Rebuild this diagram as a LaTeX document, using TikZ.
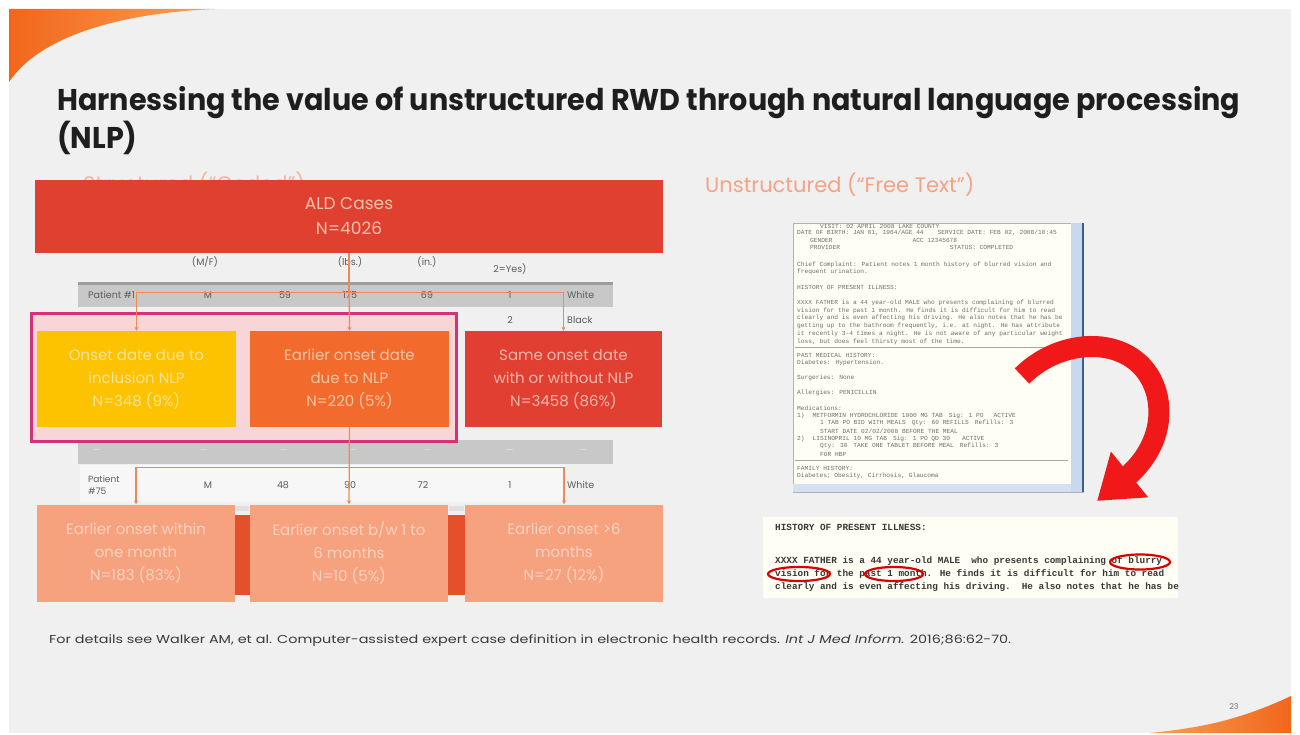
\documentclass[tikz,border=0pt]{standalone}
\usepackage{fontspec}
\usepackage{graphicx}
\setmainfont{Poppins}
\newfontfamily\monof{Liberation Mono}
\usetikzlibrary{arrows.meta}
\definecolor{slidebg}{HTML}{F0F0F0}
\definecolor{swA}{HTML}{F2661A}
\definecolor{swB}{HTML}{F8A055}
\definecolor{titlec}{HTML}{1E1E1E}
\definecolor{salmontxt}{HTML}{F4A384}
\definecolor{aldred}{HTML}{E0402F}
\definecolor{aldtxt}{HTML}{F9C3AE}
\definecolor{yel}{HTML}{FDC200}
\definecolor{yeltxt}{HTML}{FCE39A}
\definecolor{orn}{HTML}{F26B2D}
\definecolor{orntxt}{HTML}{F9C4A6}
\definecolor{redb}{HTML}{E13F31}
\definecolor{redtxt}{HTML}{F6B7AC}
\definecolor{salm}{HTML}{F6A27F}
\definecolor{salmt}{HTML}{FBD2C0}
\definecolor{pinkfill}{HTML}{F8D6D7}
\definecolor{pinkline}{HTML}{D5307A}
\definecolor{connc}{HTML}{F08A55}
\definecolor{tabgray}{HTML}{C8C8C8}
\definecolor{tabedge}{HTML}{9C9C9C}
\definecolor{tabtext}{HTML}{5C5C5C}
\definecolor{stripc}{HTML}{E4502C}
\definecolor{docbg}{HTML}{FFFEF4}
\definecolor{scrollc}{HTML}{CAD8EE}
\definecolor{scrolld}{HTML}{3C5E9E}
\definecolor{doctext}{HTML}{6E6E6E}
\definecolor{arrowred}{HTML}{F01818}
\definecolor{footc}{HTML}{3A3A3A}
\tikzset{
  tcell/.style={font=\fontsize{9.5}{11}\selectfont, text=tabtext, inner sep=0pt},
  conn/.style={draw=connc, line width=1.3pt, -{Stealth[length=4pt,width=4pt]}},
  flowbox/.style={rectangle, inner sep=0pt, align=center, minimum height=96pt,
     minimum width=199pt, font=\fontsize{15}{23}\selectfont},
  docline/.style={anchor=west, inner sep=0pt, font=\monof\fontsize{6.2}{7}\selectfont, text=doctext},
  snipline/.style={anchor=west, inner sep=0pt, font=\monof\bfseries\fontsize{9.35}{11}\selectfont, text=black!78}
}
\newcommand\gap[1]{\hspace*{#1pt}}
\begin{document}
\begin{tikzpicture}[x=1pt,y=-1pt]
\useasboundingbox (0,0) rectangle (1300,735);
\fill[white] (0,0) rectangle (1300,735);
\fill[slidebg] (9,9) rectangle (1291,733);
% swooshes
\shade[left color=swA, right color=swB] (9,9) -- (215,9) .. controls (120,13) and (40,36) .. (9,82) -- cycle;
\shade[left color=swB, right color=swA] (1291,696) .. controls (1240,720) and (1200,728) .. (1150,733) -- (1291,733) -- cycle;
% title
\node[anchor=base west, inner sep=0pt, text=titlec] (title) at (57,111)
 {\resizebox{1183pt}{\height}{\fontsize{30}{35}\selectfont\bfseries
  \begin{tabular}[t]{@{}l@{}}Harnessing the value of unstructured RWD through natural language processing\\(NLP)\end{tabular}}};
% section headers
\node[anchor=west, inner sep=0pt, text=salmontxt!80!white, font=\fontsize{21}{25}\selectfont] (hstruct) at (83,184) {Structured (“Coded”)};
\node[anchor=west, inner sep=0pt, text=salmontxt, font=\fontsize{21}{25}\selectfont] (hunstruct) at (705,185) {Unstructured (“Free Text”)};
% table behind
\node[tcell] (h2) at (205,262) {(M/F)};
\node[tcell] (h4) at (350,262) {(lbs.)};
\node[tcell] (h5) at (427,262) {(in.)};
\node[tcell] (h6) at (510,269) {2=Yes)};
\fill[tabgray] (78,282) rectangle (613,307);
\fill[tabedge] (78,282) rectangle (613,285);
\node[tcell,anchor=west] (r1a) at (88,295) {Patient \#1};
\node[tcell] (r1b) at (208,295) {M};
\node[tcell] (r1c) at (285,295) {59};
\node[tcell] (r1d) at (350,295) {175};
\node[tcell] (r1e) at (427,295) {69};
\node[tcell] (r1f) at (510,295) {1};
\node[tcell,anchor=west] (r1g) at (567,295) {White};
\node[tcell] (r2f) at (510,320) {2};
\node[tcell,anchor=west] (r2g) at (567,320) {Black};
\fill[tabgray] (78,440) rectangle (613,464);
\foreach \xx [count=\i] in {97,203,283,353,427,510,583}
  \node[tcell, text=white!88!black] (dash\i) at (\xx,452) {—};
\fill[white!97!black] (80,465) rectangle (565,502);
\node[tcell,anchor=west,align=left,font=\fontsize{9}{12}\selectfont] (r3a) at (88,485) {Patient\\\#75};
\node[tcell] (r3b) at (208,485) {M};
\node[tcell] (r3c) at (283,485) {48};
\node[tcell] (r3d) at (350,485) {90};
\node[tcell] (r3e) at (423,485) {72};
\node[tcell] (r3f) at (510,485) {1};
\node[tcell,anchor=west] (r3g) at (567,485) {White};
% strips between bottom boxes
\fill[white!88!black] (236,506) rectangle (249,511);
\fill[white!88!black] (449,506) rectangle (464,511);
\fill[stripc] (235,515) rectangle (250,595);
\fill[stripc] (448,515) rectangle (465,595);
% ALD box
\node[rectangle, fill=aldred, minimum width=628pt, minimum height=73pt, inner sep=0pt,
      align=center, text=aldtxt, font=\fontsize{17}{25}\selectfont] (ald) at (349,216.5) {ALD Cases\\N=4026};
% highlight
\draw[pinkline, fill=pinkfill, line width=3pt] (31.5,313.5) rectangle (456,441);
% level 2 boxes
\node[flowbox, fill=yel, text=yeltxt] (yb) at (136.5,379) {Onset date due to\\inclusion NLP\\N=348 (9\%)};
\node[flowbox, fill=orn, text=orntxt] (ob) at (349.5,379) {Earlier onset date\\due to NLP\\N=220 (5\%)};
\node[flowbox, fill=redb, text=redtxt, minimum width=197pt] (rb) at (563.5,379) {Same onset date\\with or without NLP\\N=3458 (86\%)};
% level 3 boxes
\node[flowbox, fill=salm, text=salmt, minimum width=198pt, minimum height=97pt] (b1) at (136,553) {Earlier onset within\\one month\\N=183 (83\%)};
\node[flowbox, fill=salm, text=salmt, minimum width=198pt, minimum height=97pt] (b2) at (349,553) {Earlier onset b/w 1 to\\6 months\\N=10 (5\%)};
\node[flowbox, fill=salm, text=salmt, minimum width=198pt, minimum height=97pt] (b3) at (564,553) {Earlier onset >6\\months\\N=27 (12\%)};
% connectors
\draw[conn] (ald.south) -- (ob.north);
\draw[conn] (ald.south) -- ++(0,39) -| (yb.north);
\draw[conn] (ald.south) -- ++(0,39) -| (rb.north);
\draw[conn] (ob.south) -- (b2.north);
\draw[conn] (ob.south) -- ++(0,40) -| (b1.north);
\draw[conn] (ob.south) -- ++(0,40) -| (b3.north);
% document window
\node[rectangle, draw=black!30, fill=docbg, minimum width=290pt, minimum height=269pt, inner sep=0pt] (doc) at (938,357.5) {};
\fill[scrollc] (1071,223) rectangle (1083,492);
\draw[scrolld, line width=2pt] (1083,223) -- (1083,492);
\fill[scrollc!80!white] (793,484) rectangle (1071,492);
\draw[black!35, line width=0.6pt] (795,347) -- (1068,347);
\draw[black!35, line width=0.6pt] (795,460) -- (1068,460);
\foreach \yy/\xx/\lt [count=\i] in {
 226/820/{VISIT: 02 APRIL 2008 LAKE COUNTY},
 233/797/{DATE OF BIRTH: JAN 01, 1964/AGE 44\gap{14}SERVICE DATE: FEB 02, 2008/10:45},
 240/810/{GENDER\gap{80}ACC 12345678},
 247/810/{PROVIDER\gap{110}STATUS: COMPLETED},
 265/797/{Chief Complaint: Patient notes 1 month history of blurred vision and},
 272/797/{frequent urination.},
 287/797/{HISTORY OF PRESENT ILLNESS:},
 303/797/{XXXX FATHER is a 44 year-old MALE who presents complaining of blurred},
 311/797/{vision for the past 1 month. He finds it is difficult for him to read},
 318/797/{clearly and is even affecting his driving. He also notes that he has be},
 326/797/{getting up to the bathroom frequently, i.e. at night. He has attribute},
 334/797/{it recently 3-4 times a night. He is not aware of any particular weight},
 342/797/{loss, but does feel thirsty most of the time.},
 355/797/{PAST MEDICAL HISTORY:},
 363/797/{Diabetes: Hypertension.},
 378/797/{Surgeries: None},
 393/797/{Allergies: PENICILLIN},
 408/797/{Medications:},
 416/797/{1)\gap{8}METFORMIN HYDROCHLORIDE 1000 MG TAB\gap{6}Sig: 1 PO\gap{10}ACTIVE},
 423/820/{1 TAB PO BID WITH MEALS\gap{6}Qty: 60 REFILLS\gap{6}Refills: 3},
 431/820/{START DATE 02/02/2008 BEFORE THE MEAL},
 439/797/{2)\gap{8}LISINOPRIL 10 MG TAB\gap{6}Sig: 1 PO QD 30\gap{12}ACTIVE},
 446/820/{Qty: 30\gap{6}TAKE ONE TABLET BEFORE MEAL\gap{6}Refills: 3},
 454/820/{FOR HBP},
 468/797/{FAMILY HISTORY:},
 476/797/{Diabetes; Obesity, Cirrhosis, Glaucoma}}
 \node[docline] (dl\i) at (\xx,\yy) {\lt};
% snippet
\node[rectangle, fill=docbg, minimum width=415pt, minimum height=81pt, inner sep=0pt] (snip) at (970.5,557.5) {};
\node[snipline] (s1) at (775,527) {HISTORY OF PRESENT ILLNESS:};
\node[snipline] (s2) at (775,561) {XXXX FATHER is a 44 year-old MALE\gap{11}who presents complaining of blurry};
\node[snipline] (s3) at (775,574) {vision for the past 1 month. He finds it is difficult for him to read};
\node[snipline] (s4) at (775,587) {clearly and is even affecting his driving.\gap{11}He also notes that he has be};
\draw[red!85!black, line width=2.2pt] (1140,562) ellipse [x radius=30, y radius=7.5];
\draw[red!85!black, line width=2.2pt] (799,574) ellipse [x radius=31, y radius=7];
\draw[red!85!black, line width=2.2pt] (894,574) ellipse [x radius=29, y radius=7];
% big red arrow
\coordinate (atail) at (1022,376);
\coordinate (ahead) at (1097,501);
\draw[arrowred, line width=21pt, -{Triangle[length=42pt,width=56pt]}] (atail) .. controls (1065,333) and (1142,335) .. (1157,395) .. controls (1167,440) and (1135,470) .. (ahead);
% footnote and page
\node[anchor=base west, inner sep=0pt, text=footc] (foot) at (49,643)
 {\resizebox{962pt}{\height}{\fontsize{11.5}{14}\selectfont For details see Walker AM, et al. Computer-assisted expert case definition in electronic health records. \textit{Int J Med Inform.} 2016;86:62-70.}};
\node[inner sep=0pt, text=black!55, font=\fontsize{8}{10}\selectfont] (pg) at (1234,707) {23};
\end{tikzpicture}
\end{document}
